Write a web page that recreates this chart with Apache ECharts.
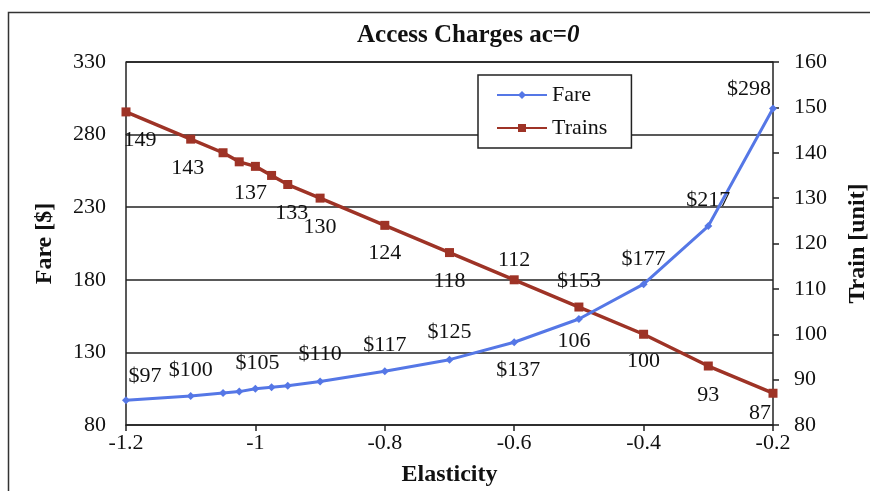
<!DOCTYPE html>
<html>
<head>
<meta charset="utf-8">
<script src="https://cdn.jsdelivr.net/npm/echarts@6/dist/echarts.min.js"></script>
<style>html,body{margin:0;padding:0;background:#fff;}#c{width:870px;height:491px;}</style>
</head>
<body>
<div id="c"></div>
<script>
const elasticity = [-1.2, -1.1, -1.05, -1.025, -1.0, -0.975, -0.95, -0.9, -0.8, -0.7, -0.6, -0.5, -0.4, -0.3, -0.2];
const fare = [97, 100, 102, 103, 105, 106, 107, 110, 117, 125, 137, 153, 177, 217, 298];
const trains = [149, 143, 140, 138, 137, 135, 133, 130, 124, 118, 112, 106, 100, 93, 87];
const fareTicks = [80, 130, 180, 230, 280, 330];
const trainTicks = [80, 90, 100, 110, 120, 130, 140, 150, 160];

// label placement (style): index -> [dx, dy]
const fareLabelOffsets = {0:[19,-24],1:[0,-26],4:[2,-25],7:[0,-27],8:[0,-26],9:[0,-27],10:[4,28],11:[0,-38],12:[0,-25],13:[0,-26],14:[-24,-19]};
const trainLabelOffsets = {0:[14,28],1:[-3,29],4:[-5,27],6:[4,29],7:[0,29],8:[0,28],9:[0,29],10:[0,-20],11:[-5,34],12:[0,27],13:[0,29],14:[-13,20]};

const FONT = '"Liberation Serif", "Times New Roman", serif';
const FS = 22;

function buildData(vals, offsets, fmt) {
  return elasticity.map((x, i) => {
    const item = { value: [x, vals[i]] };
    if (offsets[i]) {
      item.label = { show: true, position: 'inside', offset: offsets[i], formatter: fmt(vals[i]) };
    }
    return item;
  });
}

const chart = echarts.init(document.getElementById('c'), null, {renderer: 'canvas'});
chart.setOption({
  animation: false,
  backgroundColor: '#fff',
  textStyle: { fontFamily: FONT },
  title: {
    text: '{b|Access Charges ac=}{i|0}',
    left: 352, top: 18,
    textStyle: {
      rich: {
        b: { fontFamily: FONT, fontSize: 25, fontWeight: 'bold', color: '#111' },
        i: { fontFamily: FONT, fontSize: 25, fontWeight: 'bold', fontStyle: 'italic', color: '#111' }
      }
    }
  },
  graphic: [{
    type: 'rect', silent: true, z: -1,
    shape: { x: 8.5, y: 12.5, width: 900, height: 500 },
    style: { fill: 'none', stroke: '#333', lineWidth: 1.5 }
  }, {
    type: 'line', silent: true,
    shape: { x1: 126, y1: 62, x2: 773, y2: 62 },
    style: { stroke: '#222', lineWidth: 1.5 }
  }],
  legend: {
    orient: 'vertical',
    left: 478, top: 75,
    padding: [9, 24, 9, 18],
    itemGap: 11,
    itemWidth: 50, itemHeight: 10,
    backgroundColor: '#fff',
    borderColor: '#222', borderWidth: 1.5,
    textStyle: { fontFamily: FONT, fontSize: FS, color: '#111' },
    data: ['Fare', 'Trains']
  },
  grid: { left: 126, right: 97, top: 62, bottom: 66, containLabel: false, outerBoundsMode: 'none' },
  xAxis: {
    type: 'value', min: -1.2, max: -0.2, interval: 0.2,
    name: 'Elasticity', nameLocation: 'middle', nameGap: 38,
    nameTextStyle: { fontFamily: FONT, fontSize: 24, fontWeight: 'bold', color: '#111' },
    axisLine: { onZero: false, lineStyle: { color: '#222', width: 1.5 } },
    axisTick: { show: true, length: 6, lineStyle: { color: '#222', width: 1.5 } },
    axisLabel: { fontFamily: FONT, fontSize: FS, color: '#111', margin: 7,
      formatter: v => String(+v.toFixed(1)) },
    splitLine: { show: false }
  },
  yAxis: [{
    type: 'value', min: fareTicks[0], max: fareTicks[fareTicks.length-1], interval: 50,
    name: 'Fare [$]', nameLocation: 'middle', nameGap: 69,
    nameTextStyle: { fontFamily: FONT, fontSize: 24, fontWeight: 'bold', color: '#111' },
    axisLine: { show: true, lineStyle: { color: '#222', width: 1.5 } },
    axisTick: { show: false },
    axisLabel: { fontFamily: FONT, fontSize: FS, color: '#111', margin: 20 },
    splitLine: { show: true, lineStyle: { color: '#222', width: 1.5 } }
  }, {
    type: 'value', min: trainTicks[0], max: trainTicks[trainTicks.length-1], interval: 10,
    position: 'right',
    name: 'Train [unit]', nameLocation: 'middle', nameGap: 73,
    nameTextStyle: { fontFamily: FONT, fontSize: 24, fontWeight: 'bold', color: '#111' },
    axisLine: { show: true, lineStyle: { color: '#222', width: 1.5 } },
    axisTick: { show: true, length: 6, lineStyle: { color: '#222', width: 1.5 } },
    axisLabel: { fontFamily: FONT, fontSize: FS, color: '#111', margin: 21 },
    splitLine: { show: false }
  }],
  series: [{
    name: 'Fare', type: 'line', yAxisIndex: 0,
    data: buildData(fare, fareLabelOffsets, v => '$' + v),
    symbol: 'diamond', symbolSize: 8,
    lineStyle: { color: '#5577E6', width: 3 },
    itemStyle: { color: '#5577E6' },
    label: { show: false, fontFamily: FONT, fontSize: FS, color: '#111' },
    z: 3
  }, {
    name: 'Trains', type: 'line', yAxisIndex: 1,
    data: buildData(trains, trainLabelOffsets, v => String(v)),
    symbol: 'rect', symbolSize: 9,
    lineStyle: { color: '#9E3326', width: 3.5 },
    itemStyle: { color: '#9E3326' },
    label: { show: false, fontFamily: FONT, fontSize: FS, color: '#111' },
    z: 2
  }]
});
</script>
</body>
</html>
